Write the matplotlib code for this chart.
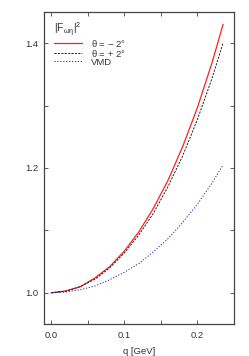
import matplotlib
matplotlib.use("Agg")
import matplotlib.pyplot as plt
from matplotlib.ticker import MultipleLocator

plt.rcParams['font.family'] = ['Liberation Sans', 'DejaVu Sans']
plt.rcParams['mathtext.fontset'] = 'custom'
plt.rcParams['mathtext.rm'] = 'Liberation Sans'
plt.rcParams['mathtext.it'] = 'Liberation Sans'
plt.rcParams['mathtext.sf'] = 'Liberation Sans'

q = [0.0, 0.02, 0.04, 0.06, 0.08, 0.10, 0.12, 0.14, 0.16, 0.18, 0.20, 0.22, 0.235]
f_minus = [1.000, 1.003, 1.010, 1.024, 1.042, 1.067, 1.098, 1.136, 1.181, 1.235, 1.297, 1.369, 1.430]
f_plus = [1.000, 1.0025, 1.010, 1.022, 1.040, 1.064, 1.093, 1.128, 1.171, 1.220, 1.278, 1.344, 1.400]
f_vmd = [1.000, 1.0013, 1.005, 1.011, 1.021, 1.033, 1.047, 1.066, 1.087, 1.113, 1.142, 1.176, 1.205]

labels = [r"$\theta$ = $-$ 2°", r"$\theta$ = + 2°", "VMD"]
title = r"$|\mathrm{F}_{\omega\eta}|^2$"
xticks = [0.0, 0.1, 0.2]
yticks = [1.0, 1.2, 1.4]

fig = plt.figure(figsize=(2.49, 3.56), dpi=100)
ax = fig.add_axes([0.1767, 0.0899, 0.7631, 0.8764])

ax.plot(q, f_minus, color='#ff2020', lw=0.9, label=labels[0])
ax.plot(q, f_plus, color='#202020', lw=0.7, ls=(0, (2.2, 1.3)), label=labels[1])
ax.plot(q, f_vmd, color='#2020a0', lw=0.7, ls=(0, (1.2, 1.8)), label=labels[2])

ax.set_xlim(-0.01, 0.25)
ax.set_ylim(0.95, 1.45)
ax.set_xticks(xticks)
ax.set_yticks(yticks)
ax.set_xticklabels([f"{t:.1f}" for t in xticks])
ax.set_yticklabels([f"{t:.1f}" for t in yticks])
ax.xaxis.set_minor_locator(MultipleLocator(0.05))
ax.yaxis.set_minor_locator(MultipleLocator(0.1))
ax.tick_params(which='both', direction='in', top=True, right=True, labelsize=6.8,
               color='#444444', labelcolor='#333333')
ax.tick_params(axis='x', pad=5)
ax.tick_params(axis='y', pad=4)
ax.tick_params(which='major', length=3, width=0.6)
ax.tick_params(which='minor', length=3, width=0.6)
for s in ax.spines.values():
    s.set_linewidth(0.9)
    s.set_color('#444444')

ax.set_xlabel("q [GeV]", fontsize=6.8, color='#333333', labelpad=5)

leg = ax.legend(title=title, loc='upper left', bbox_to_anchor=(0.055, 0.972),
                frameon=False, fontsize=6.8, title_fontsize=7.5,
                handlelength=2.9, handletextpad=1.0, labelspacing=-0.12,
                borderaxespad=0.0, borderpad=0.0, alignment='left')
for t in leg.get_texts():
    t.set_color('#333333')
leg.get_title().set_color('#333333')

fig.savefig("out.png", dpi=100)
